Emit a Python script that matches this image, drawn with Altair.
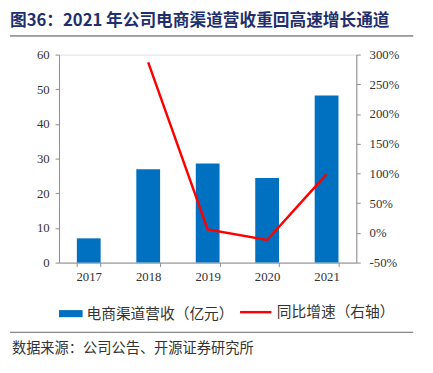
import altair as alt
import pandas as pd

years = ["2017", "2018", "2019", "2020", "2021"]
revenue = [7.0, 26.9, 28.6, 24.4, 48.2]
growth_years = ["2018", "2019", "2020", "2021"]
growth = [2.87, 0.06, -0.12, 0.99]

bar_name = "电商渠道营收（亿元）"
line_name = "同比增速（右轴）"
title_text = "图36：2021 年公司电商渠道营收重回高速增长通道"
source_text = "数据来源：公司公告、开源证券研究所"

df_bar = pd.DataFrame({"year": years, "revenue": revenue, "s": bar_name})
df_line = pd.DataFrame({"year": growth_years, "growth": growth, "s": line_name})
df_one = pd.DataFrame({"a": [0]})

W, H = 303, 212
serif = "Liberation Serif"
cjk = "Noto Sans CJK SC"
axis_color = "#8c8c8c"

xenc = alt.X("year:N", sort=years, title=None,
             scale=alt.Scale(paddingInner=0.6, paddingOuter=0.3),
             axis=alt.Axis(labelAngle=0, labelFont=serif, labelFontSize=13, labelColor="#333333",
                           domainColor=axis_color, tickColor=axis_color, tickSize=4,
                           tickBand="extent", labelPadding=4, grid=False))

bars = alt.Chart(df_bar).mark_bar().encode(
    x=xenc,
    y=alt.Y("revenue:Q", title=None,
            scale=alt.Scale(domain=[0, 60], nice=False),
            axis=alt.Axis(values=[0, 10, 20, 30, 40, 50, 60], labelFont=serif, labelFontSize=13,
                          labelColor="#333333", domainColor=axis_color, tickColor=axis_color,
                          tickSize=4, labelPadding=6, grid=False)),
    color=alt.Color("s:N", scale=alt.Scale(domain=[bar_name], range=["#0070c0"]),
                    legend=alt.Legend(orient="none", legendX=0, legendY=252, title=None,
                                      symbolType="M-1,-0.3H1V0.3H-1Z", symbolSize=576,
                                      symbolStrokeWidth=0, symbolOpacity=1,
                                      labelFont=cjk, labelFontSize=15, labelColor="#333333",
                                      labelOffset=4)),
)

line = alt.Chart(df_line).mark_line(strokeWidth=2.5).encode(
    x=alt.X("year:N", sort=years),
    y=alt.Y("growth:Q", title=None,
            scale=alt.Scale(domain=[-0.5, 3], nice=False),
            axis=alt.Axis(orient="right", values=[-0.5, 0, 0.5, 1, 1.5, 2, 2.5, 3],
                          labelExpr="round(datum.value*100) + '%'",
                          labelFont=serif, labelFontSize=13, labelColor="#333333",
                          domainColor=axis_color, tickColor=axis_color, tickSize=4,
                          labelPadding=9, grid=False)),
    stroke=alt.Stroke("s:N", scale=alt.Scale(domain=[line_name], range=["#ff0000"]),
                      legend=alt.Legend(orient="none", legendX=183, legendY=245, title=None,
                                        symbolType="stroke", symbolSize=1024,
                                        symbolStrokeWidth=2.5,
                                        labelFont=cjk, labelFontSize=15, labelColor="#333333",
                                        labelOffset=4)),
)

title = alt.Chart(df_one).mark_text(align="left", baseline="middle", font=cjk, fontSize=17,
                                    fontWeight="bold", color="#1f2f6e").encode(
    x=alt.value(-50), y=alt.value(-34), text=alt.value(title_text))
title_rule = alt.Chart(df_one).mark_rule(color="#444444", strokeWidth=1).encode(
    x=alt.value(-50), x2=alt.value(361), y=alt.value(-19))
foot_rule = alt.Chart(df_one).mark_rule(color="#666666", strokeWidth=1).encode(
    x=alt.value(-50), x2=alt.value(361), y=alt.value(283))
foot = alt.Chart(df_one).mark_text(align="left", baseline="middle", font=cjk, fontSize=14.5,
                                   color="#333333").encode(
    x=alt.value(-48), y=alt.value(300), text=alt.value(source_text))

chart = alt.layer(bars, line, title, title_rule, foot_rule, foot).resolve_scale(
    y="independent", color="independent"
).properties(
    width=W, height=H,
    autosize=alt.AutoSizeParams(type="none"),
    padding={"left": 52, "top": 44, "right": 70, "bottom": 109},
).configure_view(stroke=None).configure(background="white")

chart.save("out.html", embed_options={"renderer": "svg", "actions": False})
